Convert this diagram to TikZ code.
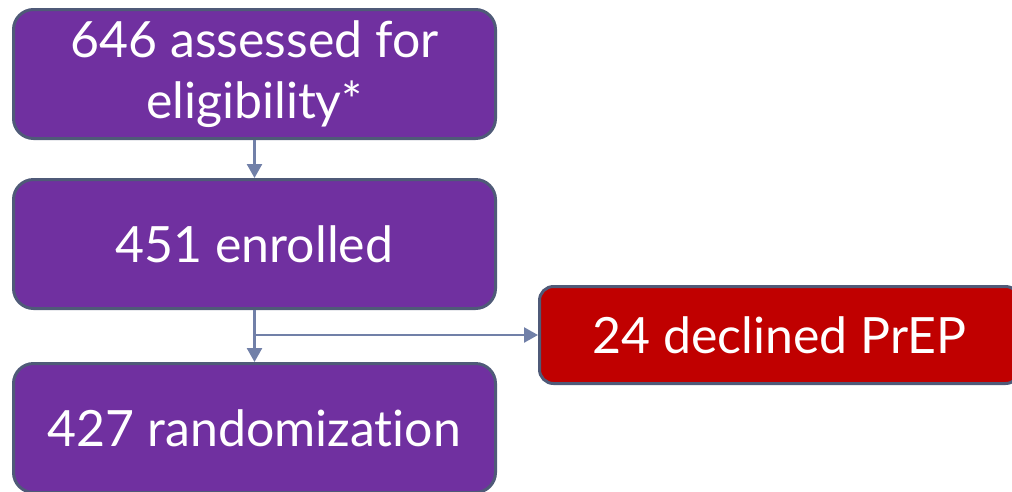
\documentclass[tikz,border=0pt]{standalone}
\usepackage{fontspec}
\setmainfont[Ligatures={NoCommon}]{Lato}
\usetikzlibrary{arrows.meta}
\definecolor{boxpurple}{HTML}{7030A0}
\definecolor{boxred}{HTML}{C00000}
\definecolor{boxedge}{HTML}{4F5A78}
\definecolor{arrowcol}{HTML}{7180A8}
\begin{document}
\begin{tikzpicture}[x=1pt,y=-1pt,
  flowbox/.style={draw=boxedge, line width=3pt, rounded corners=20pt, fill=boxpurple,
    text=white, font=\fontsize{50}{61}\selectfont, align=center, inner sep=0pt,
    minimum width=482pt, minimum height=129pt, anchor=north west},
  redbox/.style={flowbox, fill=boxred, minimum width=480pt, minimum height=97pt, rounded corners=14pt},
  conn/.style={draw=arrowcol, line width=2.5pt, -{Triangle[length=14pt,width=15pt]}}]
\useasboundingbox (0,0) rectangle (1012,491);
\node[flowbox] (a) at (12,8) {646 assessed for\\eligibility*};
\node[flowbox] (b) at (12,178) {451 enrolled};
\node[flowbox] (c) at (12,362) {427 randomization};
\node[redbox] (d) at (538,285) {24 declined PrEP};
\coordinate (br) at (b.south |- d.west);
\draw[conn] (a.south) -- (b.north);
\draw[conn] (b.south) -- (c.north);
\draw[conn] (br) -- (d.west);
\end{tikzpicture}
\end{document}
